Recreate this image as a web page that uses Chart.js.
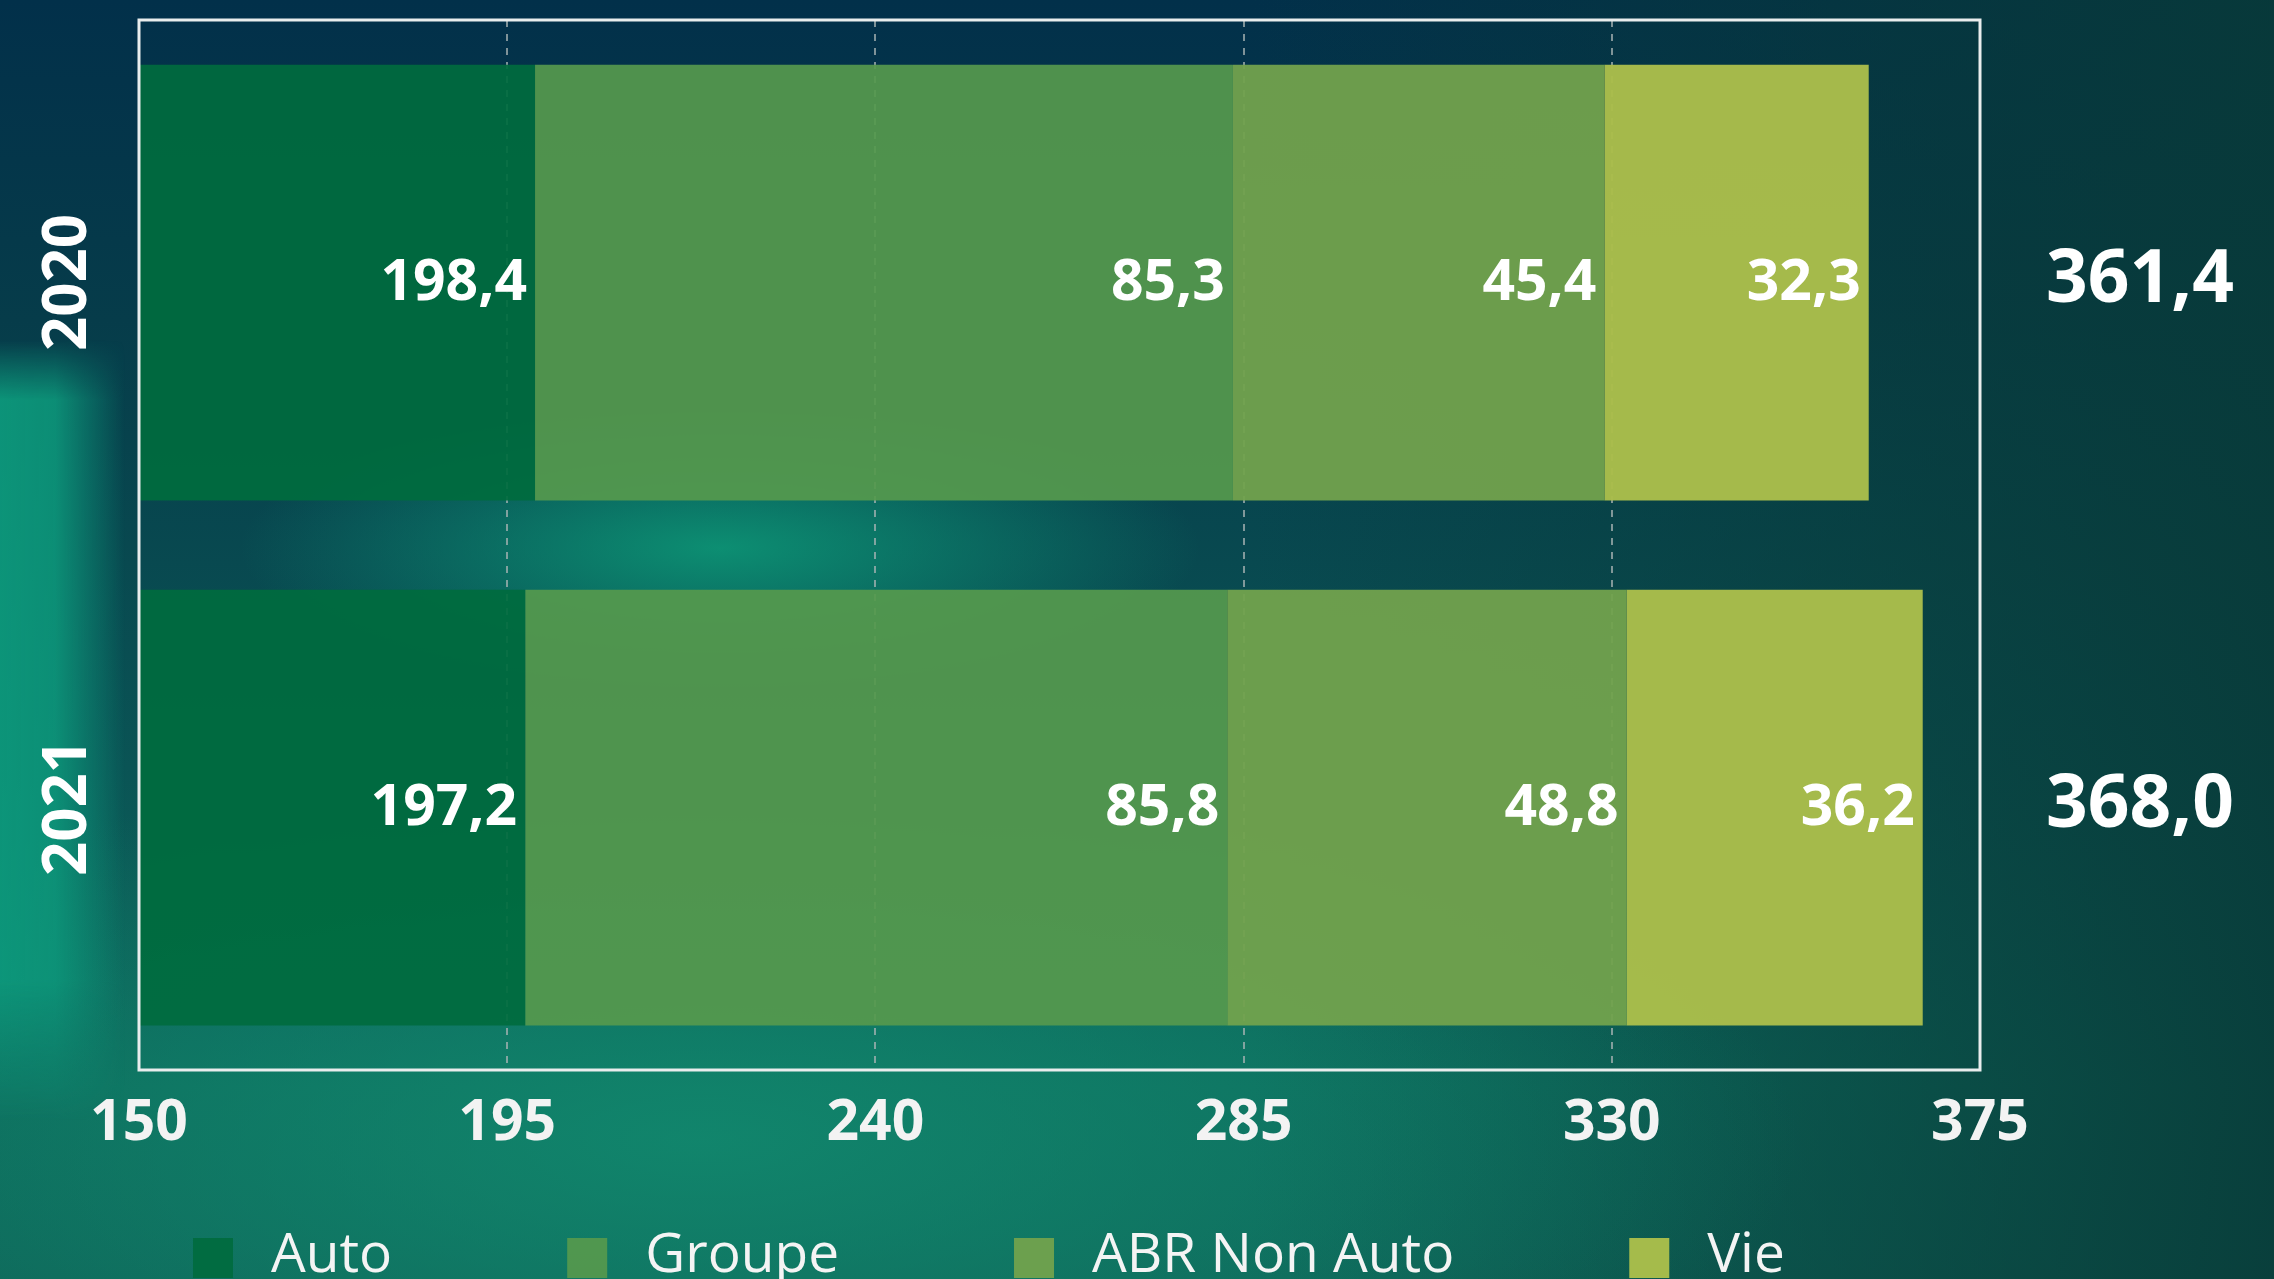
<!DOCTYPE html>
<html lang="fr">
<head>
<meta charset="utf-8">
<title>Répartition par activité 2020-2021</title>
<script src="https://cdn.jsdelivr.net/npm/chart.js@4.4.1/dist/chart.umd.min.js"></script>
<style>
  html, body { margin: 0; padding: 0; width: 2274px; height: 1279px; overflow: hidden; }
  body {
    background:
      radial-gradient(ellipse 480px 140px at 720px 548px, rgba(13,150,118,0.9), rgba(13,150,118,0)),
      radial-gradient(ellipse 1100px 380px at 700px 1140px, rgba(18,140,112,0.8), rgba(18,140,112,0)),
      linear-gradient(90deg, rgba(8,58,56,0) 0%, rgba(8,58,56,0) 55%, rgba(8,58,56,0.88) 100%),
      linear-gradient(180deg, #02304a 0%, #063c4a 25%, #0a5455 60%, #0d6a5c 85%, #0e6458 100%);
  }
  #wrap { position: relative; width: 2274px; height: 1279px; }
  #band {
    position: absolute; left: 0; top: 340px; width: 140px; height: 780px;
    background: linear-gradient(90deg, rgba(13,152,123,0.95) 0px, rgba(13,150,122,0.9) 55px, rgba(13,150,122,0) 125px);
    -webkit-mask-image: linear-gradient(180deg, transparent 0px, #000 60px, #000 640px, transparent 780px);
    mask-image: linear-gradient(180deg, transparent 0px, #000 60px, #000 640px, transparent 780px);
  }
  #chart { position: absolute; left: 0; top: 0; }
</style>
</head>
<body>
<div id="wrap"><div id="band"></div><canvas id="chart" width="2274" height="1279"></canvas></div>
<script>
// --- Data ---
const years = ['2020', '2021'];
const seriesNames = ['Auto', 'Groupe', 'ABR Non Auto', 'Vie'];
const autoValues = [198.4, 197.2];
const groupeValues = [85.3, 85.8];
const abrValues = [45.4, 48.8];
const vieValues = [32.3, 36.2];
const xTicks = [150, 195, 240, 285, 330, 375];

const seriesColors = ['rgba(0,108,62,0.93)', 'rgba(85,153,78,0.93)', 'rgba(114,162,77,0.95)', 'rgba(170,190,75,0.97)'];
const FONT = "'Open Sans', sans-serif";

Chart.defaults.font.family = FONT;

const fmt = v => v.toFixed(1).replace('.', ',');

// labels on bars, totals, year labels, frame and legend
const overlayPlugin = {
    id: 'overlay',
    afterDatasetsDraw(chart) {
        const { ctx, chartArea } = chart;
        const yScale = chart.scales.y;
        ctx.save();
        ctx.fillStyle = '#ffffff';

        // values inside the bars
        ctx.font = `bold 57px ${FONT}`;
        ctx.textAlign = 'right';
        ctx.textBaseline = 'alphabetic';
        chart.data.datasets.forEach((ds, di) => {
            chart.getDatasetMeta(di).data.forEach((bar, i) => {
                ctx.fillText(fmt(ds.data[i]), bar.x - 8, bar.y + 17);
            });
        });

        // totals on the right
        ctx.font = `bold 73px ${FONT}`;
        ctx.textAlign = 'center';
        years.forEach((y, i) => {
            const total = chart.data.datasets.reduce((s, ds) => s + ds.data[i], 0);
            ctx.fillText(fmt(total), chartArea.right + 160, yScale.getPixelForValue(i) + 19);
        });

        // rotated year labels
        ctx.font = `bold 60px ${FONT}`;
        years.forEach((y, i) => {
            ctx.save();
            ctx.translate(86, yScale.getPixelForValue(i));
            ctx.rotate(-Math.PI / 2);
            ctx.fillText(y, 0, 0);
            ctx.restore();
        });
        ctx.restore();
    },
    afterDraw(chart) {
        const { ctx, chartArea } = chart;
        ctx.save();
        // white frame round the plot
        ctx.strokeStyle = '#e9eded';
        ctx.lineWidth = 3;
        ctx.strokeRect(chartArea.left, chartArea.top, chartArea.right - chartArea.left, chartArea.bottom - chartArea.top);

        // legend along the bottom
        ctx.font = `55px ${FONT}`;
        ctx.textAlign = 'left';
        ctx.textBaseline = 'alphabetic';
        let x = 193;
        chart.data.datasets.forEach(ds => {
            ctx.fillStyle = ds.backgroundColor;
            ctx.fillRect(x, 1238, 40, 40);
            ctx.fillStyle = '#f4f4f4';
            ctx.fillText(ds.label, x + 78, 1272);
            x += 78 + ctx.measureText(ds.label).width + 175;
        });
        ctx.restore();
    }
};

const allValues = [autoValues, groupeValues, abrValues, vieValues];

new Chart(document.getElementById('chart'), {
    type: 'bar',
    data: {
        labels: years,
        datasets: seriesNames.map((name, i) => ({
            label: name,
            data: allValues[i],
            backgroundColor: seriesColors[i],
            borderWidth: 0,
            categoryPercentage: 1,
            barPercentage: 0.83
        }))
    },
    options: {
        indexAxis: 'y',
        responsive: false,
        animation: false,
        devicePixelRatio: 1,
        layout: { padding: { top: 20, right: 294, bottom: 0, left: 0 } },
        plugins: {
            legend: { display: false },
            tooltip: { enabled: false }
        },
        scales: {
            x: {
                stacked: true,
                min: xTicks[0],
                max: xTicks[xTicks.length - 1],
                ticks: {
                    stepSize: xTicks[1] - xTicks[0],
                    color: '#f3f3f3',
                    padding: 20,
                    font: { size: 57, weight: 'bold' },
                    autoSkip: false,
                    maxRotation: 0
                },
                grid: {
                    drawTicks: false,
                    lineWidth: 2,
                    color: c => (c.index === 0 || c.index === xTicks.length - 1) ? 'rgba(0,0,0,0)' : 'rgba(170,180,180,0.75)'
                },
                border: { display: false, dash: [7, 7] },
                afterFit(scale) { scale.height = 209; }
            },
            y: {
                stacked: true,
                ticks: { display: false },
                grid: { display: false },
                border: { display: false },
                afterFit(scale) { scale.width = 139; }
            }
        }
    },
    plugins: [overlayPlugin]
});
</script>
</body>
</html>
